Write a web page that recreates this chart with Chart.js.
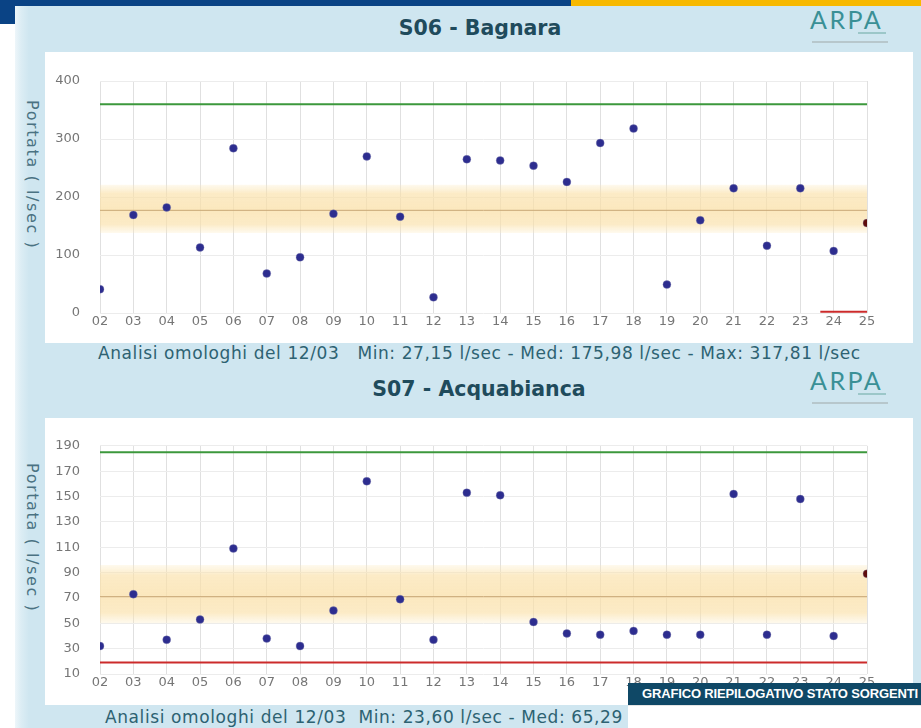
<!DOCTYPE html>
<html>
<head>
<meta charset="utf-8">
<script src="https://cdn.jsdelivr.net/npm/chart.js@4.4.1/dist/chart.umd.min.js"></script>
<style>
  html, body { margin:0; padding:0; }
  body { width:921px; height:728px; position:relative; overflow:hidden; background:#fff; font-family:"DejaVu Sans", Verdana, sans-serif; }
  .abs { position:absolute; }
  #barBlue { left:0; top:0; width:571px; height:6px; background:#0a4385; }
  #barYellow { left:571px; top:0; width:350px; height:6px; background:#f7b900; }
  #leftBlock { left:0; top:0; width:15px; height:24px; background:#0a4385; }
  #panel { left:15px; top:6px; width:906px; height:722px; background:linear-gradient(to right, #eef6fa 0px, #dcedf4 6px, #cfe6f0 14px, #cfe6f0 100%); }
  .white { background:#fff; }
  .title { width:400px; text-align:center; font-weight:bold; font-size:20.5px; line-height:26px; color:#1f4b5c; }
  .ytitle { font-size:16px; letter-spacing:1.6px; color:#4a7282; white-space:nowrap; transform-origin:0 0; transform:rotate(90deg); }
  .footer { font-size:17px; letter-spacing:0.6px; line-height:20px; color:#2d6272; white-space:pre; }
  .logo { width:80px; height:36px; }
  .logo .txt { position:absolute; left:0; top:-6px; font-family:"Lato", sans-serif; font-weight:400; font-size:25px; letter-spacing:2.5px; color:#3a9096; }
  .logo .sub { position:absolute; left:48px; top:22px; width:28px; height:2px; background:#9cc7c9; }
  .logo .line { position:absolute; left:2px; top:31px; width:76px; height:2px; background:#b7c7cc; }
  #grafBox { left:628px; top:683px; width:293px; height:22px; background:#0f4866; color:#fff; font-family:"Liberation Sans", Arial, sans-serif; font-weight:bold; font-size:13px; letter-spacing:-0.15px; line-height:22px; text-align:right; padding-right:3px; box-sizing:border-box; white-space:nowrap; }
  #grafWhite { left:628px; top:705px; width:293px; height:23px; background:#fff; border-top:1px solid #e4e4e4; }
</style>
</head>
<body>
<div class="abs" id="panel"></div>
<div class="abs" id="barBlue"></div>
<div class="abs" id="barYellow"></div>
<div class="abs" id="leftBlock"></div>

<!-- Chart 1 -->
<div class="abs title" style="left:280px; top:15px;">S06 - Bagnara</div>
<div class="abs logo" style="left:810px; top:10px;"><div class="txt">ARPA</div><div class="sub"></div><div class="line"></div></div>
<div class="abs white" style="left:45px; top:52px; width:868px; height:291px;">
  <canvas id="c1"></canvas>
</div>
<div class="abs ytitle" style="left:42px; top:100px;">Portata ( l/sec )</div>
<div class="abs footer" style="left:98px; top:343px;">Analisi omologhi del 12/03   Min: 27,15 l/sec - Med: 175,98 l/sec - Max: 317,81 l/sec</div>

<!-- Chart 2 -->
<div class="abs title" style="left:279px; top:376px;">S07 - Acquabianca</div>
<div class="abs logo" style="left:810px; top:371px;"><div class="txt">ARPA</div><div class="sub"></div><div class="line"></div></div>
<div class="abs white" style="left:45px; top:418px; width:868px; height:287px;">
  <canvas id="c2"></canvas>
</div>
<div class="abs ytitle" style="left:42px; top:463px;">Portata ( l/sec )</div>
<div class="abs footer" style="left:105px; top:707px;">Analisi omologhi del 12/03  Min: 23,60 l/sec - Med: 65,29</div>

<div class="abs" id="grafWhite"></div>
<div class="abs" id="grafBox">GRAFICO RIEPILOGATIVO STATO SORGENTI</div>

<script>
// ---- data ----
const categories = ['02','03','04','05','06','07','08','09','10','11','12','13','14','15','16','17','18','19','20','21','22','23','24','25'];

// S06 - Bagnara (l/sec)
const s06Values = [41, 169, 182, 113, 284, 68, 96, 171, 270, 166, 27, 265, 263, 254, 226, 293, 318, 49, 160, 215, 116, 215, 107, 155];
const s06YTicks = [0, 100, 200, 300, 400];
const s06Max = 360;          // green threshold
const s06MinFrom = 21.6;     // red segment start (category index)
const s06Min = 2;            // red threshold value
const s06BandLow = 138;
const s06BandHigh = 221;
const s06Median = 177;

// S07 - Acquabianca (l/sec)
const s07Values = [32, 73, 37, 53, 109, 38, 32, 60, 162, 69, 37, 153, 151, 51, 42, 41, 44, 41, 41, 152, 41, 148, 40, 89];
const s07YTicks = [10, 30, 50, 70, 90, 110, 130, 150, 170, 190];
const s07Max = 185;
const s07Min = 19;
const s07BandLow = 50;
const s07BandHigh = 96;
const s07Median = 71;

// ---- helpers ----
const lastIdx = categories.length - 1;
const xy = (arr) => arr.map((v, i) => ({ x: i, y: v }));
const hline = (v, from = 0, to = lastIdx) => [{ x: from, y: v }, { x: to, y: v }];

function bandFill(lo, hi) {
  return (ctx) => {
    const chart = ctx.chart;
    const area = chart.chartArea;
    if (!area) return 'rgba(250,225,170,0.5)';
    const y = chart.scales.y;
    const top = y.getPixelForValue(hi), bot = y.getPixelForValue(lo);
    const g = chart.ctx.createLinearGradient(0, top, 0, bot);
    g.addColorStop(0, 'rgba(252,232,185,0.25)');
    g.addColorStop(0.18, 'rgba(250,224,168,0.65)');
    g.addColorStop(0.5, 'rgba(250,224,168,0.75)');
    g.addColorStop(0.82, 'rgba(250,224,168,0.65)');
    g.addColorStop(1, 'rgba(252,232,185,0.25)');
    return g;
  };
}

function makeChart(id, opts) {
  const datasets = [
    { // measured points
      data: xy(opts.values), showLine: false, pointRadius: 4, pointHoverRadius: 4,
      pointBackgroundColor: (c) => c.dataIndex === lastIdx ? '#5e0c0c' : '#2d2d8f',
      pointBorderColor: 'rgba(140,140,180,0.35)', pointBorderWidth: 1
    },
    { data: hline(opts.median), borderColor: '#c9a877', borderWidth: 1, pointRadius: 0, fill: false },
    { data: hline(opts.max), borderColor: '#3c983c', borderWidth: 2, pointRadius: 0, fill: false },
    { data: hline(opts.min, opts.minFrom ?? 0), borderColor: '#cc2b2b', borderWidth: 2, pointRadius: 0, fill: false },
    { data: hline(opts.bandHigh), borderWidth: 0, borderColor: 'rgba(0,0,0,0)', pointRadius: 0, fill: false },
    { data: hline(opts.bandLow), borderWidth: 0, borderColor: 'rgba(0,0,0,0)', pointRadius: 0, fill: '-1', backgroundColor: bandFill(opts.bandLow, opts.bandHigh) }
  ];
  const yt = opts.yTicks;
  return new Chart(document.getElementById(id), {
    type: 'line',
    data: { datasets },
    options: {
      responsive: true, maintainAspectRatio: false, animation: false,
      layout: { padding: { top: opts.padTop, right: 46, left: 0, bottom: 0 } },
      plugins: { legend: { display: false }, tooltip: { enabled: false } },
      scales: {
        x: {
          type: 'linear', min: 0, max: lastIdx,
          afterFit: (s) => { s.height = opts.xHeight; },
          ticks: { stepSize: 1, autoSkip: false, padding: 1, color: '#767676', font: { family: 'DejaVu Sans', size: 13 },
                   callback: (v) => categories[v] ?? '' },
          grid: { color: '#e0e0e0', drawTicks: false, lineWidth: 1 },
          border: { display: false }
        },
        y: {
          min: yt[0], max: yt[yt.length - 1],
          afterFit: (s) => { s.width = 55; },
          afterBuildTicks: (s) => { s.ticks = opts.gridVals.map(v => ({ value: v })); },
          ticks: { padding: 20, color: '#767676', font: { family: 'DejaVu Sans', size: 13 },
                   callback: (v) => yt.includes(v) ? String(v) : '' },
          grid: { color: '#ececec', drawTicks: false, lineWidth: 1 },
          border: { display: false }
        }
      }
    }
  });
}

const s06Grid = s06YTicks;
const s07Grid = [];
for (let v = s07YTicks[0]; v <= s07YTicks[s07YTicks.length - 1]; v += 10) s07Grid.push(v);

makeChart('c1', { values: s06Values, yTicks: s06YTicks, gridVals: s06Grid, max: s06Max, min: s06Min, minFrom: s06MinFrom,
  bandLow: s06BandLow, bandHigh: s06BandHigh, median: s06Median, padTop: 29, xHeight: 30 });
makeChart('c2', { values: s07Values, yTicks: s07YTicks, gridVals: s07Grid, max: s07Max, min: s07Min,
  bandLow: s07BandLow, bandHigh: s07BandHigh, median: s07Median, padTop: 25, xHeight: 31 });
</script>
</body>
</html>
